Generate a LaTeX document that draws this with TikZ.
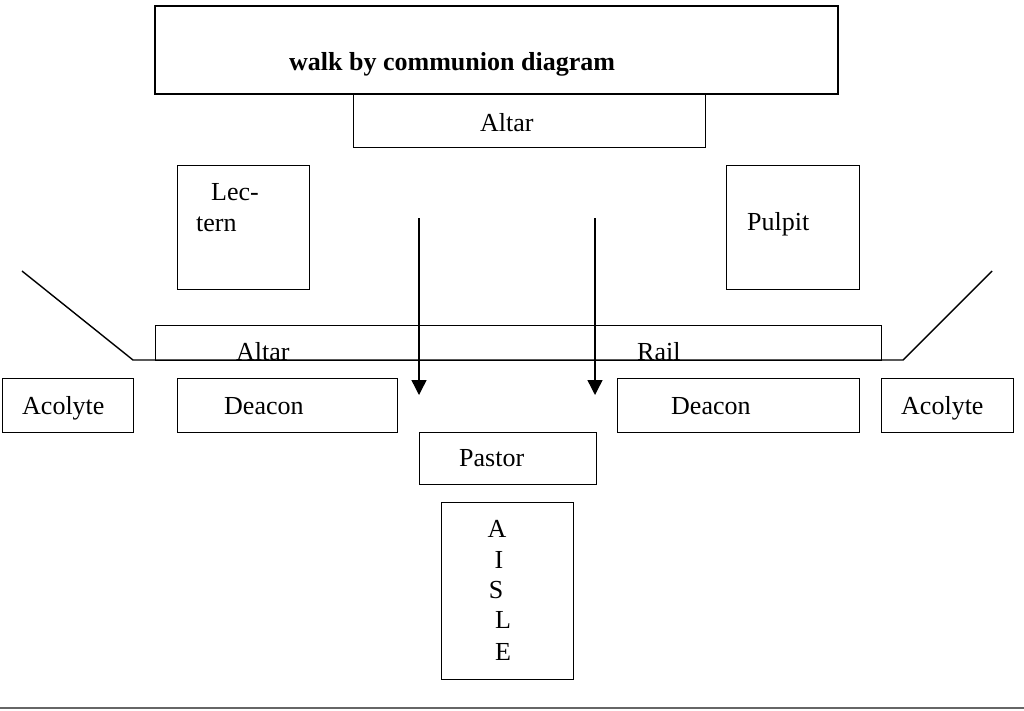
\documentclass[tikz,border=0pt]{standalone}
\usepackage{fontspec}
\setmainfont{Liberation Serif}
\usetikzlibrary{arrows.meta}
\begin{document}
\begin{tikzpicture}[x=1pt,y=-1pt,
  box/.style={draw=black,line width=1.4pt,inner sep=0pt,anchor=north west},
  lbl/.style={inner sep=0pt,anchor=base west,font=\fontsize{26}{30}\selectfont},
  letter/.style={inner sep=0pt,anchor=base,font=\fontsize{26}{30}\selectfont},
  walk/.style={line width=1.4pt,-{Triangle[width=15pt,length=15pt]}},
  wall/.style={line width=1.4pt}]
\useasboundingbox[fill=white] (0,0) rectangle (1024,710);
% boxes
\node[box,line width=1.8pt,minimum width=683pt,minimum height=88pt] (title) at (154,5) {};
\node[box,minimum width=352pt,minimum height=54pt] (altar) at (353,93) {};
\node[box,minimum width=132pt,minimum height=124pt] (lectern) at (177,165) {};
\node[box,minimum width=133pt,minimum height=124pt] (pulpit) at (726,165) {};
\node[box,minimum width=726pt,minimum height=35pt] (rail) at (155,325) {};
\node[box,minimum width=131pt,minimum height=54pt] (acoL) at (2,378) {};
\node[box,minimum width=220pt,minimum height=54pt] (deaL) at (177,378) {};
\node[box,minimum width=242pt,minimum height=54pt] (deaR) at (617,378) {};
\node[box,minimum width=132pt,minimum height=54pt] (acoR) at (881,378) {};
\node[box,minimum width=177pt,minimum height=52pt] (pastor) at (419,432) {};
\node[box,minimum width=132pt,minimum height=177pt] (aisle) at (441,502) {};
% texts
\node[lbl,font=\fontsize{26}{30}\selectfont\bfseries] (titletext) at (289,70) {walk by communion diagram};
\node[lbl] (altartext) at (480,131) {Altar};
\node[lbl] (lec1) at (211,200) {Lec-};
\node[lbl] (lec2) at (196,231) {tern};
\node[lbl] (pulpittext) at (747,230) {Pulpit};
\node[lbl] (railtext1) at (236,360) {Altar};
\node[lbl] (railtext2) at (637,360) {Rail};
\node[lbl] (acoLtext) at (22,414) {Acolyte};
\node[lbl] (deaLtext) at (224,414) {Deacon};
\node[lbl] (deaRtext) at (671,414) {Deacon};
\node[lbl] (acoRtext) at (901,414) {Acolyte};
\node[lbl] (pastortext) at (459,466) {Pastor};
\node[letter] (lA) at (497,537) {A};
\node[letter] (lI) at (499,568) {I};
\node[letter] (lS) at (496,598) {S};
\node[letter] (lL) at (503,628) {L};
\node[letter] (lE) at (503,660) {E};
% rail walls
\coordinate (wl1) at (22,271);
\coordinate (wl2) at (133,360);
\coordinate (wr2) at (903,360);
\coordinate (wr1) at (992,271);
\draw[wall] (wl1) -- (wl2) -- (wr2) -- (wr1);
% walking arrows
\coordinate (a1s) at (419,218);
\coordinate (a1e) at (419,395);
\coordinate (a2s) at (595,218);
\coordinate (a2e) at (595,395);
\draw[walk] (a1s) -- (a1e);
\draw[walk] (a2s) -- (a2e);
% bottom line
\coordinate (b1) at (0,708);
\coordinate (b2) at (1024,708);
\draw[line width=1.8pt,black!60] (b1) -- (b2);
\end{tikzpicture}
\end{document}
